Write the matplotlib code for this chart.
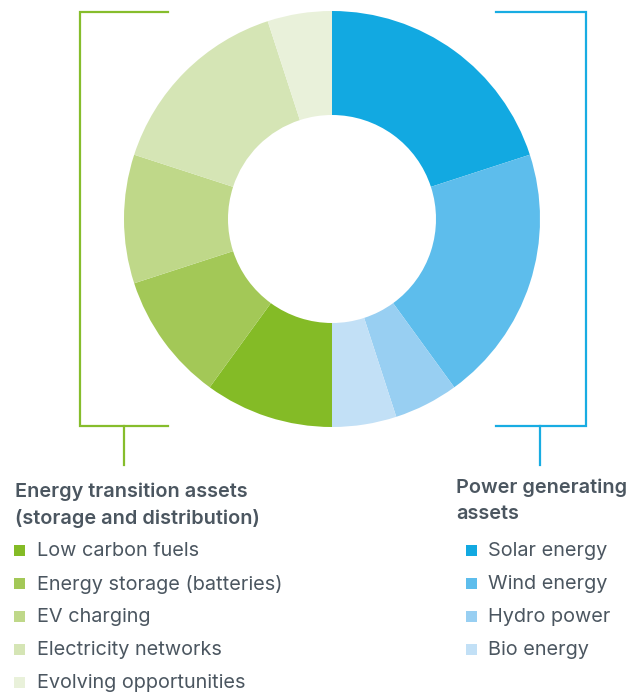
import matplotlib.pyplot as plt
from matplotlib.patches import Rectangle

# share of portfolio, clockwise from 12 o'clock
power_labels = ["Solar energy", "Wind energy", "Hydro power", "Bio energy"]
power_values = [20, 20, 5, 5]
power_colors = ["#12a9e1", "#5dbdec", "#98cff2", "#c2e0f6"]

transition_labels = ["Low carbon fuels", "Energy storage (batteries)", "EV charging",
                     "Electricity networks", "Evolving opportunities"]
transition_values = [10, 10, 10, 15, 5]
transition_colors = ["#84bb26", "#a3c857", "#bfd889", "#d5e5b5", "#e9f1da"]

W, H = 640, 695
TEXT = "#4b5660"
GREEN = "#86bd2c"
BLUE = "#18ace2"

fig = plt.figure(figsize=(W / 100, H / 100), dpi=100)
ax = fig.add_axes([0, 0, 1, 1])

def py(y):
    # pixel row (from top) -> data y
    return H - y

ax.pie(power_values + transition_values,
       colors=power_colors + transition_colors,
       startangle=90, counterclock=False,
       center=(332, py(219)), radius=208,
       wedgeprops=dict(width=104, linewidth=0))

# brackets
ax.plot([168, 80, 80, 168], [py(12), py(12), py(426), py(426)], color=GREEN, lw=1.6,
        solid_joinstyle="miter")
ax.plot([124, 124], [py(426), py(465)], color=GREEN, lw=1.6)
ax.plot([496, 586, 586, 496], [py(12), py(12), py(426), py(426)], color=BLUE, lw=1.6,
        solid_joinstyle="miter")
ax.plot([540, 540], [py(426), py(465)], color=BLUE, lw=1.6)

font = ["Inter", "DejaVu Sans"]
fs = 14.3

for txt, y in [("Energy transition assets", 492), ("(storage and distribution)", 518)]:
    ax.text(15, py(y), txt, ha="left", va="center", fontsize=fs, fontweight="semibold",
            color=TEXT, family=font)
for txt, y in [("Power generating", 488), ("assets", 514)]:
    ax.text(456, py(y), txt, ha="left", va="center", fontsize=fs, fontweight="semibold",
            color=TEXT, family=font)

rows = [551, 584, 617, 650, 683]
for lab, col, r in zip(transition_labels, transition_colors, rows):
    ax.add_patch(Rectangle((14, py(r) - 5), 11, 11, color=col, lw=0))
    ax.text(37, py(r), lab, ha="left", va="center", fontsize=fs, color=TEXT, family=font)

for lab, col, r in zip(power_labels, power_colors, rows):
    ax.add_patch(Rectangle((466, py(r) - 5), 11, 11, color=col, lw=0))
    ax.text(488, py(r), lab, ha="left", va="center", fontsize=fs, color=TEXT, family=font)

ax.set_xlim(0, W)
ax.set_ylim(0, H)
ax.set_aspect("equal")
ax.axis("off")

fig.savefig("out.png", dpi=100)
